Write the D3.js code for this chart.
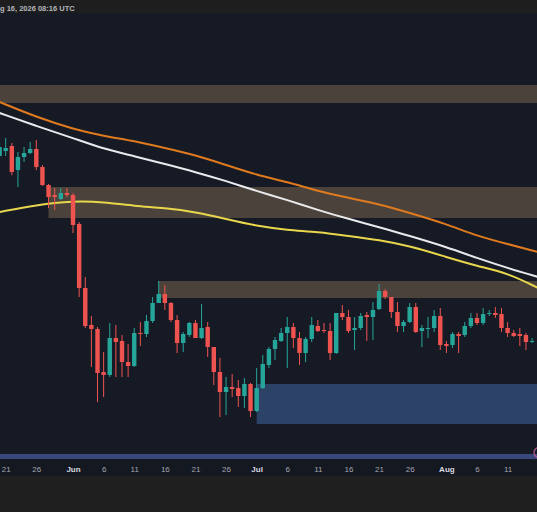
<!DOCTYPE html>
<html>
<head>
<meta charset="utf-8">
<script src="https://cdn.jsdelivr.net/npm/d3@7"></script>
<style>
html, body { margin: 0; padding: 0; background: #1f1f1f; overflow: hidden; }
svg { display: block; }
</style>
</head>
<body>
<script>
var width = 537, height = 512;

// daily candles, first one on May 20
var firstDay = "2026-05-20";
var opens  = [344,349,354,330,343,347,351,333,315,305,301,307,305,276,212,175,171,128,125,162,159,138,134,167,166,179,197,206,197,180,157,165,177,162,173,153,128,108,113,112,104,116,89,112,135,151,159,167,173,162,147,161,174,170,169,147,187,183,170,172,185,183,191,209,203,188,174,178,193,169,171,172,184,156,155,166,165,174,182,177,186,187,186,172,167,166,165,158];
var highs  = [357,362,357,348,353,358,360,335,316,312,312,312,307,278,223,184,173,148,177,175,165,156,172,178,185,203,219,215,198,185,168,178,180,196,178,153,142,123,126,120,122,117,132,145,153,163,172,183,177,168,163,183,180,177,177,187,195,190,183,187,188,198,216,211,203,198,180,197,197,175,183,190,192,159,168,168,178,187,187,192,190,193,192,178,170,172,167,162];
var lows   = [342,344,325,313,338,346,330,314,292,290,300,303,267,203,172,133,98,103,123,123,123,123,133,154,163,177,197,190,178,147,148,163,162,161,143,115,83,85,103,93,92,83,88,111,132,140,158,132,152,135,138,158,168,167,140,146,180,167,150,170,159,160,190,201,182,168,168,177,167,153,162,168,150,147,152,147,163,172,175,175,184,182,168,163,163,154,150,157];
var closes = [353,352,328,343,347,351,333,315,303,303,307,305,275,212,174,171,127,125,162,158,138,134,167,166,179,197,206,197,180,157,166,177,162,172,153,128,108,113,111,104,116,89,112,136,151,160,167,173,162,147,161,175,169,169,147,187,183,169,172,184,183,190,209,203,188,174,178,193,168,172,172,184,155,154,166,164,174,182,177,186,187,185,172,167,164,164,158,159];

// moving averages, read every few days
var maDates = ["2026-05-20","2026-05-26","2026-06-01","2026-06-06","2026-06-11","2026-06-16","2026-06-21","2026-06-26","2026-07-01","2026-07-06","2026-07-11","2026-07-16","2026-07-21","2026-07-26","2026-08-01","2026-08-06","2026-08-11","2026-08-16"];
var maOrange = [398,383,371,364,359,352,345,335,325,318,309,302,296,287,276,264,256,248];
var maWhite  = [387,374,362,351,344,336,328,319,309,300,290,281,273,264,253,242,232,223];
var maYellow = [288,295,299,298,294,292,288,281,274,270,268,264,260,254,243,234,227,212];

// zones: start day, low, high, kind
var zoneStarts = ["2026-05-01","2026-05-28","2026-06-15","2026-07-01","2026-05-01"];
var zoneLows   = [397,282,202,76,41];
var zoneHighs  = [415,313,219,116,46];
var zoneKinds  = ["supply","supply","supply","demand","range"];
var zoneEnd = "2026-08-31";

var tickDates = ["2026-05-21","2026-05-26","2026-06-01","2026-06-06","2026-06-11","2026-06-16","2026-06-21","2026-06-26","2026-07-01","2026-07-06","2026-07-11","2026-07-16","2026-07-21","2026-07-26","2026-08-01","2026-08-06","2026-08-11"];

var stamp = "g 16, 2026 08:16 UTC";

var zoneColor = { supply: "#4b433b", demand: "#2d4267", range: "#3a477c" };

var parseDay = d3.utcParse("%Y-%m-%d");
var start = parseDay(firstDay);
var days = d3.utcDay.range(start, d3.utcDay.offset(start, opens.length));
var candles = days.map(function(d, i) {
  return { date: d, o: opens[i], h: highs[i], l: lows[i], c: closes[i] };
});

var chartTop = 13, chartBottom = 459;

var x = d3.scaleUtc()
          .domain([parseDay("2026-05-21"), parseDay("2026-08-11")])
          .range([5.7, 507.6]);

var y = d3.scaleLinear()
          .domain([45, 485])
          .range([455, 15]);

var pitch = x(parseDay("2026-05-22")) - x(parseDay("2026-05-21"));
var bodyW = pitch * 0.72;

var svg = d3.select("body")
            .append("svg")
            .attr("width", width)
            .attr("height", height);

// backgrounds
svg.append("rect").attr("x", 0).attr("y", 0).attr("width", width).attr("height", chartTop).attr("fill", "#1e1e1e");
svg.append("rect").attr("x", 0).attr("y", chartTop).attr("width", width).attr("height", chartBottom - chartTop).attr("fill", "#161a25");
svg.append("rect").attr("x", 0).attr("y", chartBottom).attr("width", width).attr("height", 17).attr("fill", "#141821");
svg.append("rect").attr("x", 0).attr("y", chartBottom + 17).attr("width", width).attr("height", height - chartBottom - 17).attr("fill", "#1f1f1f");

svg.append("defs").append("clipPath")
   .attr("id", "plot")
   .append("rect")
   .attr("x", 0).attr("y", chartTop)
   .attr("width", width).attr("height", chartBottom - chartTop);

var plot = svg.append("g").attr("clip-path", "url(#plot)");

// zones
plot.append("g")
    .selectAll("rect")
    .data(zoneStarts.map(function(s, i) {
      return { start: parseDay(s), lo: zoneLows[i], hi: zoneHighs[i], kind: zoneKinds[i] };
    }))
    .enter()
    .append("rect")
    .attr("x", function(d) { return x(d.start); })
    .attr("width", function(d) { return x(parseDay(zoneEnd)) - x(d.start); })
    .attr("y", function(d) { return y(d.hi); })
    .attr("height", function(d) { return y(d.lo) - y(d.hi); })
    .attr("fill", function(d) { return zoneColor[d.kind]; });

// moving averages
var maSeries = [
  { values: maOrange, color: "#e07a1f" },
  { values: maWhite,  color: "#e9eaee" },
  { values: maYellow, color: "#e8d64c" }
];

var line = d3.line()
             .x(function(d) { return x(d.date); })
             .y(function(d) { return y(d.v); })
             .curve(d3.curveBasis);

plot.append("g")
    .selectAll("path")
    .data(maSeries)
    .enter()
    .append("path")
    .attr("d", function(s) {
      return line(maDates.map(function(t, i) { return { date: parseDay(t), v: s.values[i] }; }));
    })
    .attr("fill", "none")
    .attr("stroke", function(s) { return s.color; })
    .attr("stroke-width", 2);

// candles
var up = "#26a69a", down = "#ef5350";

var candle = plot.append("g")
                 .selectAll("g")
                 .data(candles)
                 .enter()
                 .append("g")
                 .attr("fill", function(d) { return d.c >= d.o ? up : down; })
                 .attr("stroke", function(d) { return d.c >= d.o ? up : down; });

candle.append("line")
      .attr("x1", function(d) { return x(d.date); })
      .attr("x2", function(d) { return x(d.date); })
      .attr("y1", function(d) { return y(d.h); })
      .attr("y2", function(d) { return y(d.l); })
      .attr("stroke-width", 1);

candle.append("rect")
      .attr("x", function(d) { return x(d.date) - bodyW / 2; })
      .attr("width", bodyW)
      .attr("y", function(d) { return y(Math.max(d.o, d.c)); })
      .attr("height", function(d) { return Math.max(1, Math.abs(y(d.o) - y(d.c))); })
      .attr("stroke", "none");

// price marker at the right edge of the bottom band
svg.append("circle")
   .attr("cx", width + 2)
   .attr("cy", y(47.5))
   .attr("r", 5)
   .attr("fill", "none")
   .attr("stroke", "#b45a92")
   .attr("stroke-width", 1.2);

// x axis
var monthFmt = d3.utcFormat("%b"), dayFmt = d3.utcFormat("%-d");

var xAxis = d3.axisBottom(x)
              .tickValues(tickDates.map(parseDay))
              .tickSize(0)
              .tickPadding(7)
              .tickFormat(function(d) { return d.getUTCDate() === 1 ? monthFmt(d) : dayFmt(d); });

var axisG = svg.append("g")
               .attr("transform", "translate(0," + chartBottom + ")")
               .call(xAxis);

axisG.select(".domain").remove();
axisG.selectAll("text")
     .attr("font-family", "'Liberation Sans', Arial, sans-serif")
     .attr("font-size", "8px")
     .attr("fill", function(d) { return d.getUTCDate() === 1 ? "#d8dae0" : "#a3a6af"; })
     .attr("font-weight", function(d) { return d.getUTCDate() === 1 ? "bold" : "normal"; });

// header stamp
svg.append("text")
   .attr("x", 0)
   .attr("y", 10.5)
   .attr("font-family", "'Liberation Sans', Arial, sans-serif")
   .attr("font-size", "7.5px")
   .attr("font-weight", "bold")
   .attr("fill", "#b4b7bf")
   .text(stamp);
</script>
</body>
</html>
